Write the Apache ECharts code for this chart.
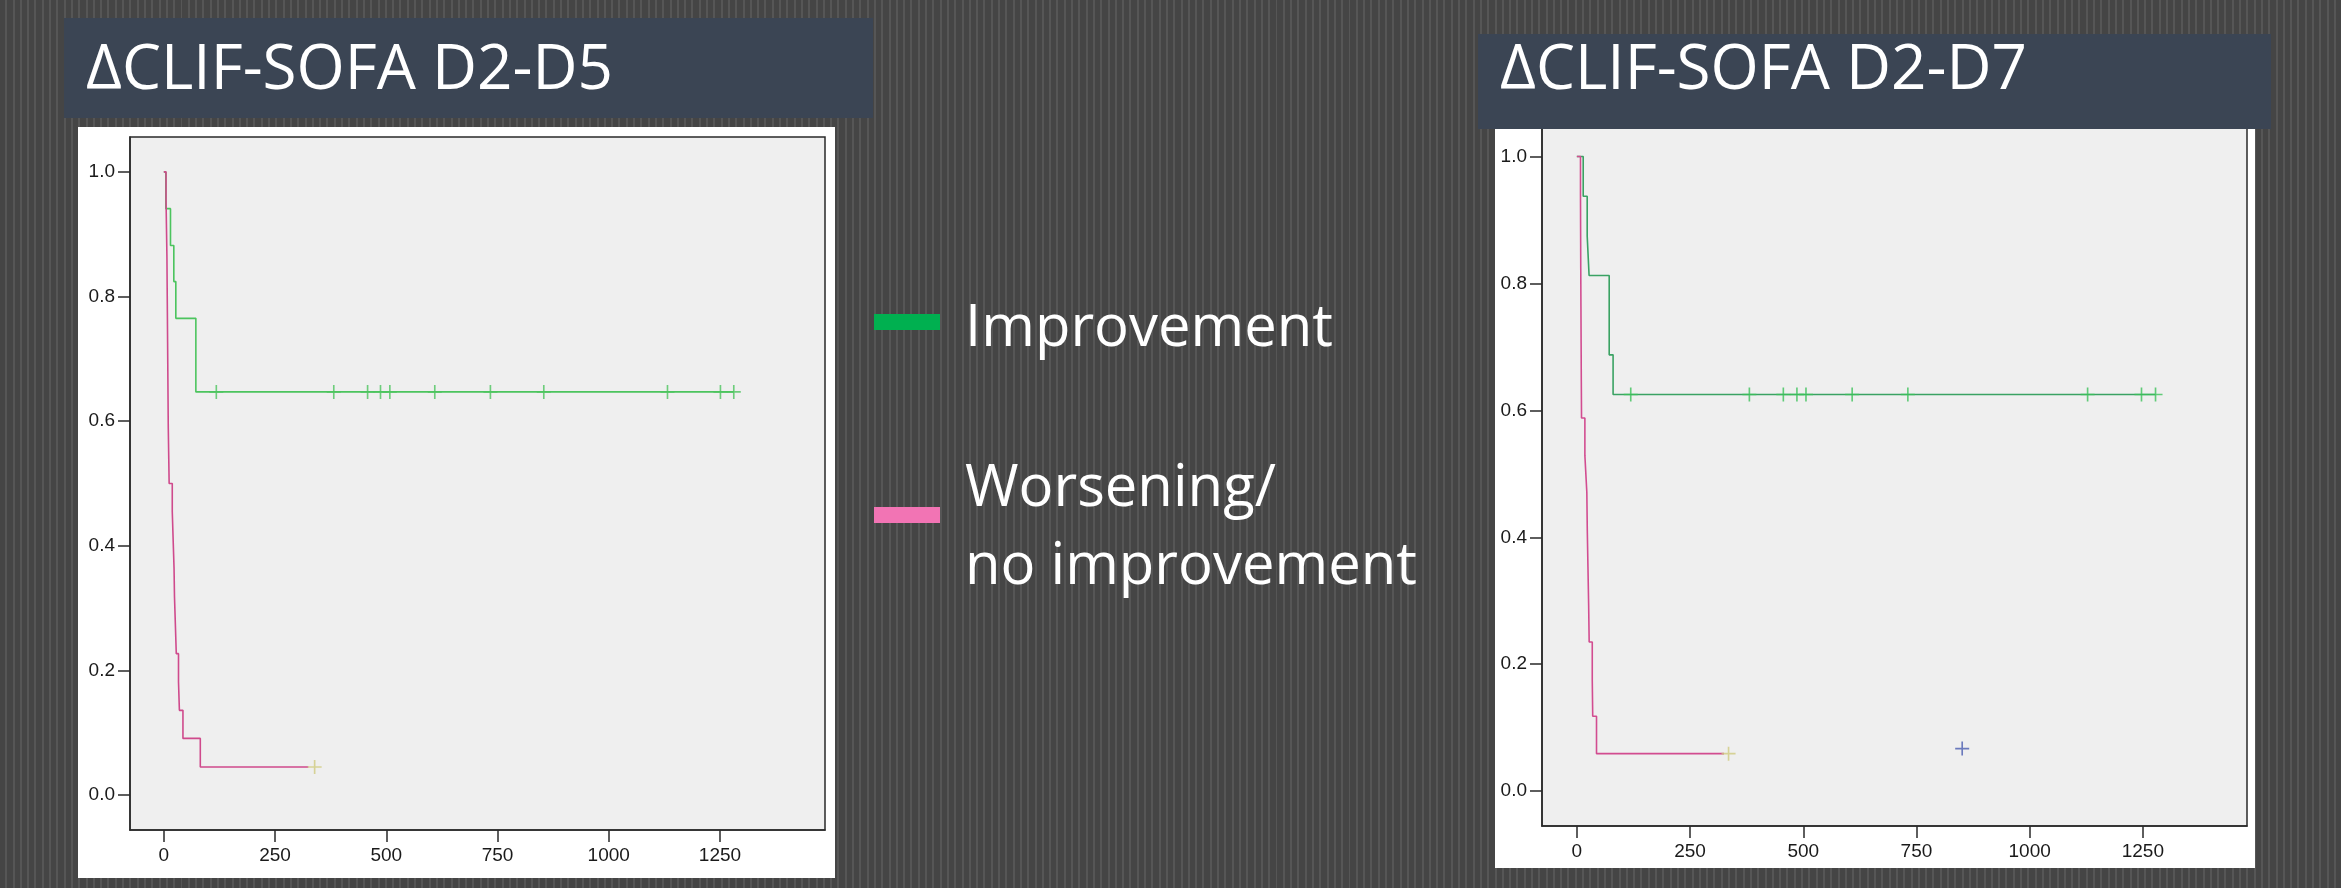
<!DOCTYPE html>
<html>
<head>
<meta charset="utf-8">
<script src="https://cdn.jsdelivr.net/npm/echarts@6/dist/echarts.min.js"></script>
<style>
  html, body { margin: 0; padding: 0; }
  body {
    width: 2341px; height: 888px; overflow: hidden;
    background: repeating-linear-gradient(90deg, #454545 0px, #454545 5.3px, #565656 5.3px, #565656 7.3px);
  }
  #chart { width: 2341px; height: 888px; }
</style>
</head>
<body>
<div id="chart"></div>
<script>
// ---------- DATA ----------
const panelTitles = ['\u0394CLIF-SOFA D2-D5', '\u0394CLIF-SOFA D2-D7'];
const legendLabels = ['Improvement', 'Worsening/\nno improvement'];
const xTicks = [0, 250, 500, 750, 1000, 1250];
const yTicks = [0, 0.2, 0.4, 0.6, 0.8, 1.0];

// Panel 1: D2-D5
const d5ImproveTimes = [0, 4.5, 15, 22.5, 27, 72, 1281];
const d5ImproveSurv = [1, 0.941, 0.882, 0.824, 0.765, 0.647, 0.647];
const d5ImproveCensorTimes = [118, 382, 458, 487, 508, 609, 734, 854, 1132, 1251, 1281];
const d5ImproveCensorSurv = 0.647;
const d5WorseTimes = [0, 5, 6, 7, 7.5, 8, 8.5, 9, 9.5, 10, 11, 12, 19, 21, 23, 24, 26, 28, 33, 35, 43, 82, 325];
const d5WorseSurv = [1, 0.955, 0.909, 0.864, 0.818, 0.773, 0.727, 0.682, 0.636, 0.591, 0.545, 0.5, 0.455, 0.409, 0.364, 0.318, 0.273, 0.227, 0.182, 0.136, 0.091, 0.045, 0.045];
const d5WorseCensor = [[339, 0.045]];

// Panel 2: D2-D7
const d7ImproveTimes = [0, 14, 22.8, 27, 71.4, 80, 1278];
const d7ImproveSurv = [1, 0.9375, 0.875, 0.8125, 0.6875, 0.625, 0.625];
const d7ImproveCensorTimes = [119, 381, 456, 486, 506, 608, 731, 1128, 1247, 1278];
const d7ImproveCensorSurv = 0.625;
const d7WorseTimes = [0, 8, 8.3, 8.6, 9, 9.4, 9.8, 10.3, 17.7, 22, 23, 24.5, 26, 27.2, 34, 35, 43.4, 325];
const d7WorseSurv = [1, 0.941, 0.882, 0.824, 0.765, 0.706, 0.647, 0.588, 0.529, 0.471, 0.412, 0.353, 0.294, 0.235, 0.176, 0.118, 0.059, 0.059];
const d7WorseCensor = [[335, 0.059]];
const d7OtherCensor = [[851, 0.067]];

// ---------- BUILD ----------
const zip = (xs, ys) => xs.map((x, i) => [x, ys[i]]);
const censorPts = (ts, s) => ts.map(t => [t, s]);
const plus = 'path://M-6,-0.7 L6,-0.7 L6,0.7 L-6,0.7 Z M-0.7,-6 L0.7,-6 L0.7,6 L-0.7,6 Z';

const chart = echarts.init(document.getElementById('chart'), null, { renderer: 'canvas' });

const axisTextStyle = { color: '#1a1a1a', fontSize: 19, fontFamily: '"Liberation Sans", Arial, sans-serif' };
function xAxis(gi, min, max) {
  return {
    type: 'value', gridIndex: gi, min: min, max: max,
    axisLine: { show: true, onZero: false, lineStyle: { color: '#2a2a2a', width: 1.5 } },
    axisTick: { show: true, length: 12, lineStyle: { color: '#2a2a2a', width: 1.5 }, customValues: xTicks },
    axisLabel: Object.assign({ margin: 16, customValues: xTicks, formatter: v => String(v) }, axisTextStyle),
    splitLine: { show: false }
  };
}
function yAxis(gi, min, max) {
  return {
    type: 'value', gridIndex: gi, min: min, max: max,
    axisLine: { show: true, onZero: false, lineStyle: { color: '#2a2a2a', width: 1.5 } },
    axisTick: { show: true, length: 12, lineStyle: { color: '#2a2a2a', width: 1.5 }, customValues: yTicks },
    axisLabel: Object.assign({ margin: 15, customValues: yTicks, formatter: v => v.toFixed(1) }, axisTextStyle),
    splitLine: { show: false }
  };
}
function km(gi, data, color) {
  return {
    type: 'line', xAxisIndex: gi, yAxisIndex: gi, data: data, step: 'end',
    showSymbol: false, symbol: 'none', silent: true, animation: false,
    lineStyle: { color: color, width: 1.6 }
  };
}
function censor(gi, data, color, size) {
  return {
    type: 'scatter', xAxisIndex: gi, yAxisIndex: gi, data: data,
    symbol: plus, symbolSize: size, silent: true, animation: false,
    itemStyle: { color: color }, z: 3
  };
}

const titleFont = '"Open Sans", "Noto Sans", sans-serif';

const option = {
  backgroundColor: 'transparent',
  animation: false,
  grid: [
    { left: 130, top: 137, width: 695, height: 693, show: true, backgroundColor: '#efefef', borderColor: '#2a2a2a', borderWidth: 1.5 },
    { left: 1542, top: 121, width: 705, height: 705, show: true, backgroundColor: '#efefef', borderColor: '#2a2a2a', borderWidth: 1.5 }
  ],
  xAxis: [xAxis(0, -76, 1486), xAxis(1, -77, 1480)],
  yAxis: [yAxis(0, -0.056, 1.056), yAxis(1, -0.055, 1.056)],
  series: [
    km(0, zip(d5ImproveTimes, d5ImproveSurv), '#4cc45e'),
    km(0, zip(d5WorseTimes, d5WorseSurv), '#cf4a8c'),
    censor(0, censorPts(d5ImproveCensorTimes, d5ImproveCensorSurv), '#4cc45e', 14),
    censor(0, d5WorseCensor, '#cfcb80', 14),
    km(1, zip(d7ImproveTimes, d7ImproveSurv), '#3aa263'),
    km(1, zip(d7WorseTimes, d7WorseSurv), '#d24c90'),
    censor(1, censorPts(d7ImproveCensorTimes, d7ImproveCensorSurv), '#3cc25a', 14),
    censor(1, d7WorseCensor, '#cfcb80', 14),
    censor(1, d7OtherCensor, '#4a5db0', 14)
  ],
  graphic: [
    { type: 'rect', z: -10, shape: { x: 78, y: 127, width: 757, height: 751 }, style: { fill: '#ffffff' } },
    { type: 'rect', z: -10, shape: { x: 1495, y: 120, width: 760, height: 748 }, style: { fill: '#ffffff' } },
    { type: 'rect', z: 50, shape: { x: 64, y: 18, width: 809, height: 100 }, style: { fill: '#3b4554' } },
    { type: 'rect', z: 50, shape: { x: 1478, y: 34, width: 793, height: 95 }, style: { fill: '#3b4554' } },
    { type: 'text', z: 51, x: 86, y: 71, style: { text: panelTitles[0], fill: '#ffffff', fontSize: 62, fontFamily: titleFont, verticalAlign: 'middle', align: 'left' } },
    { type: 'text', z: 51, x: 1500, y: 71, style: { text: panelTitles[1], fill: '#ffffff', fontSize: 62, fontFamily: titleFont, verticalAlign: 'middle', align: 'left' } },
    { type: 'rect', z: 50, shape: { x: 874, y: 314, width: 66, height: 16 }, style: { fill: '#00b050' } },
    { type: 'rect', z: 50, shape: { x: 874, y: 507, width: 66, height: 16 }, style: { fill: '#f274b4' } },
    { type: 'text', z: 51, x: 965, y: 329, style: { text: legendLabels[0], fill: '#ffffff', fontSize: 58, fontFamily: titleFont, verticalAlign: 'middle', align: 'left' } },
    { type: 'text', z: 51, x: 965, y: 528, style: { text: legendLabels[1], fill: '#ffffff', fontSize: 58, lineHeight: 78, fontFamily: titleFont, verticalAlign: 'middle', align: 'left' } }
  ]
};
chart.setOption(option);
</script>
</body>
</html>
